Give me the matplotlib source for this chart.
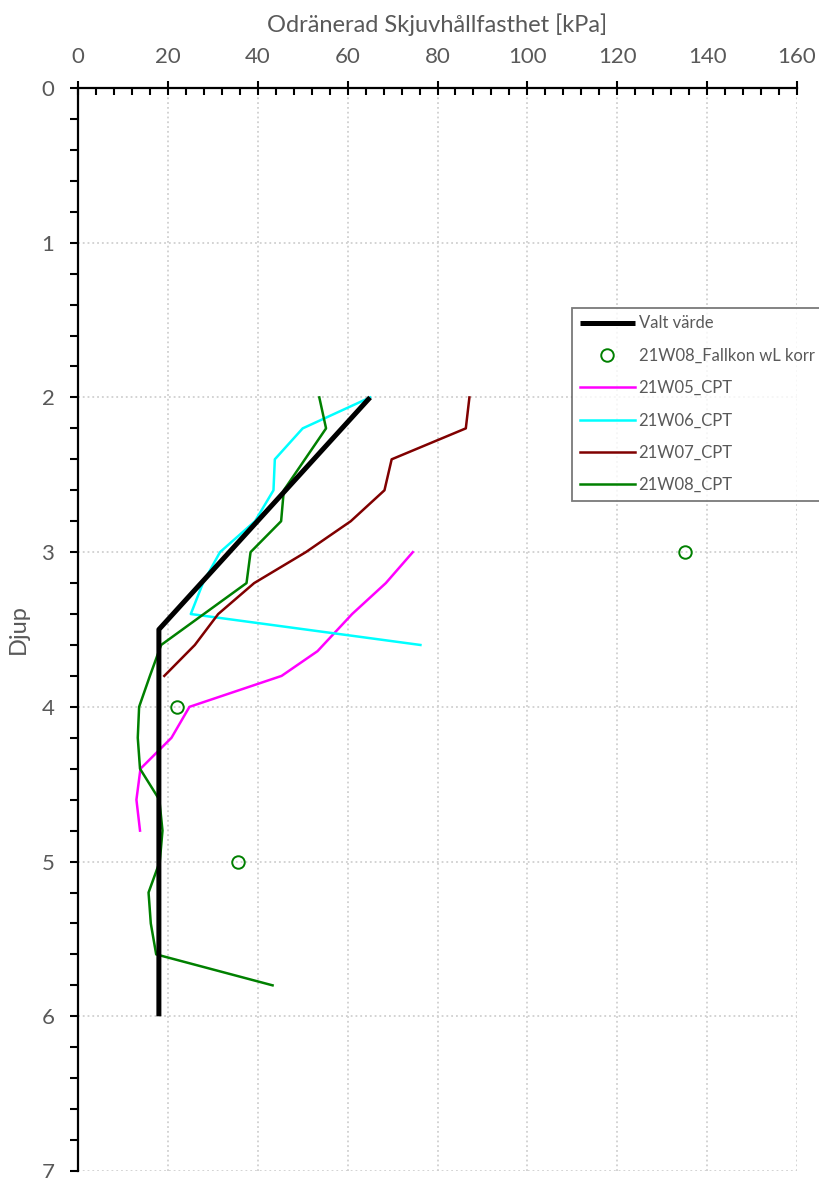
import matplotlib
matplotlib.use("Agg")
import matplotlib.pyplot as plt
from matplotlib.ticker import MultipleLocator

plt.rcParams['font.family'] = ['Lato', 'DejaVu Sans']

# Chosen design value
valt_x = [65, 18, 18]
valt_y = [2.0, 3.5, 6.0]

# Fall cone tests (21W08, wL corrected)
fallkon_x = [135, 22, 35.5]
fallkon_y = [3.0, 4.0, 5.0]

# CPT-derived undrained shear strength profiles
w05_x = [74.5, 68.5, 61, 53.3, 45.3, 24.8, 20.8, 13.9, 13.0, 13.8]
w05_y = [3.0, 3.2, 3.4, 3.64, 3.8, 4.0, 4.2, 4.4, 4.6, 4.8]

w06_x = [65, 50, 43.8, 43.5, 39.4, 31.6, 27.8, 25.1, 76.2]
w06_y = [2.0, 2.2, 2.4, 2.6, 2.8, 3.0, 3.2, 3.4, 3.6]

w07_x = [87.1, 86.3, 69.8, 68.2, 60.7, 50.7, 39.2, 31.2, 26.0, 19.2]
w07_y = [2.0, 2.2, 2.4, 2.6, 2.8, 3.0, 3.2, 3.4, 3.6, 3.8]

w08_x = [53.7, 55.2, 45.8, 45.2, 38.4, 37.5, 18.5, 16.0, 13.6, 13.3, 13.8,
         18.1, 18.8, 18.2, 15.7, 16.2, 17.4, 43.3]
w08_y = [2.0, 2.2, 2.6, 2.8, 3.0, 3.2, 3.6, 3.8, 4.0, 4.2, 4.4,
         4.6, 4.8, 5.0, 5.2, 5.4, 5.6, 5.8]

x_label = "Odränerad Skjuvhållfasthet [kPa]"
y_label = "Djup"

W, H = 819, 1178
fig = plt.figure(figsize=(W / 100, H / 100), dpi=100)
ax = fig.add_axes([78 / W, 1 - 1171 / H, (797 - 78) / W, (1171 - 88) / H])

ax.plot(valt_x, valt_y, color='black', lw=3.6, label='Valt värde',
        solid_capstyle='butt', zorder=5)
ax.plot(fallkon_x, fallkon_y, ls='none', marker='o', ms=9, mfc='none',
        mec='#008000', mew=1.4, label='21W08_Fallkon wL korr', zorder=6)
ax.plot(w05_x, w05_y, color='#FF00FF', lw=1.8, label='21W05_CPT')
ax.plot(w06_x, w06_y, color='#00FFFF', lw=1.8, label='21W06_CPT')
ax.plot(w07_x, w07_y, color='#800000', lw=1.8, label='21W07_CPT')
ax.plot(w08_x, w08_y, color='#008000', lw=1.8, label='21W08_CPT')

ax.set_xlim(0, 160)
ax.set_ylim(7, 0)

ax.xaxis.tick_top()
ax.xaxis.set_label_position('top')
ax.xaxis.set_major_locator(MultipleLocator(20))
ax.xaxis.set_minor_locator(MultipleLocator(4))
ax.yaxis.set_major_locator(MultipleLocator(1))
ax.yaxis.set_minor_locator(MultipleLocator(0.2))

tick_color = '#595959'
ax.tick_params(axis='x', which='major', direction='inout', length=10, width=1.5,
               labelsize=16, labelcolor=tick_color, pad=10)
ax.tick_params(axis='x', which='minor', direction='in', length=5, width=1.5)
ax.tick_params(axis='y', which='major', direction='out', length=6, width=1.5,
               labelsize=16, labelcolor=tick_color, pad=11)
ax.tick_params(axis='y', which='minor', direction='out', length=6, width=1.5)

for side in ('bottom', 'right'):
    ax.spines[side].set_visible(False)
for side in ('top', 'left'):
    ax.spines[side].set_linewidth(1.6)

ax.grid(True, which='major', color='#d0d0d0', ls=':', lw=1.3)
ax.set_axisbelow(True)

ax.set_xlabel(x_label, fontsize=17, color=tick_color, labelpad=11)
ax.set_ylabel(y_label, fontsize=17, color=tick_color, labelpad=9)

leg = ax.legend(loc='upper left', bbox_to_anchor=(572 / W, 1 - 308 / H),
                bbox_transform=fig.transFigure, fontsize=12, frameon=True,
                fancybox=False, borderaxespad=0, borderpad=0.45,
                handlelength=3.3, handletextpad=0.25, labelspacing=0.98)
leg.get_frame().set_edgecolor('#595959')
leg.get_frame().set_linewidth(1.3)
for t in leg.get_texts():
    t.set_color(tick_color)

fig.savefig('out.png', dpi=100)
